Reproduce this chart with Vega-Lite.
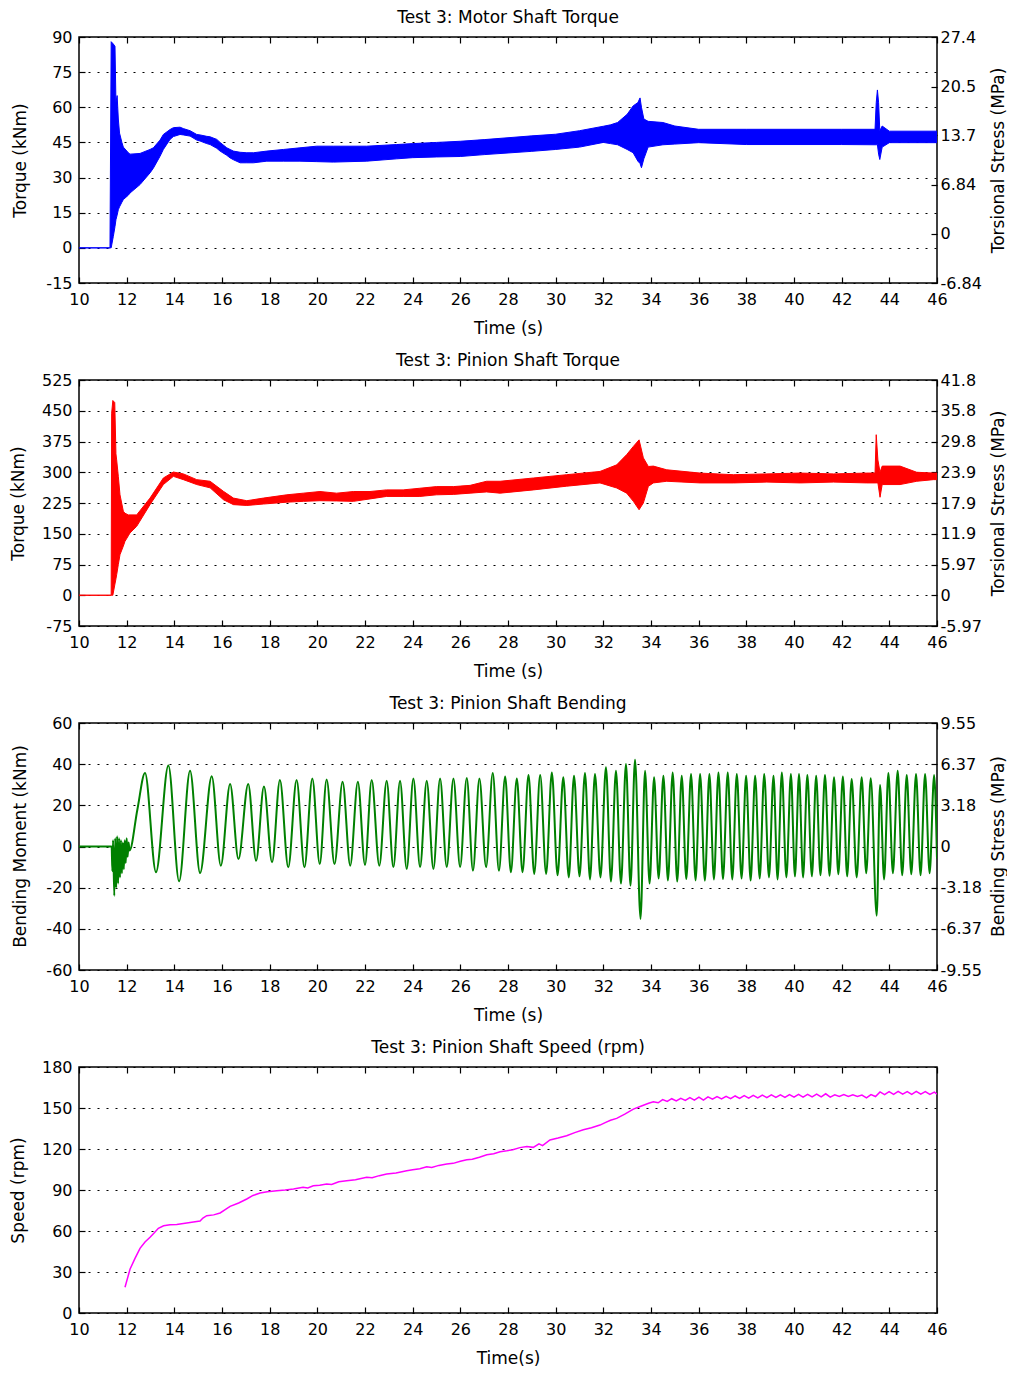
{
  "$schema": "https://vega.github.io/schema/vega-lite/v6.json",
  "padding": {"left": 8, "top": 8, "right": 0, "bottom": 0},
  "background": "white",
  "bounds": "flush",
  "spacing": 97,
  "config": {
    "font": "DejaVu Sans",
    "view": {"stroke": "#000", "strokeWidth": 1.5},
    "axis": {
      "domain": false, "grid": false,
      "labelFont": "DejaVu Sans", "labelFontSize": 16, "labelColor": "#000",
      "titleFont": "DejaVu Sans", "titleFontSize": 17, "titleFontWeight": "normal", "titleColor": "#000",
      "tickColor": "#000", "tickWidth": 1.2, "tickSize": -6,
      "labelFlush": false, "labelOverlap": false, "labelBound": false
    },
    "title": {"font": "DejaVu Sans", "fontSize": 17, "fontWeight": "normal", "color": "#000", "anchor": "middle", "frame": "group"}
  },
  "datasets": {
    "motor": [
      {"t":10.0,"lo":0,"hi":0},{"t":11.30,"lo":0,"hi":0},{"t":11.35,"lo":0,"hi":88},{"t":11.44,"lo":4.9,"hi":87},
      {"t":11.51,"lo":9.1,"hi":86},{"t":11.55,"lo":12,"hi":62},{"t":11.60,"lo":14,"hi":65},{"t":11.65,"lo":16.3,"hi":55},
      {"t":11.70,"lo":17.5,"hi":49},{"t":11.80,"lo":19.5,"hi":45},{"t":11.86,"lo":20.6,"hi":43},{"t":12.07,"lo":22.5,"hi":40.6},
      {"t":12.14,"lo":23.4,"hi":40},{"t":12.56,"lo":27,"hi":40.3},{"t":12.98,"lo":32,"hi":42},{"t":13.12,"lo":34,"hi":42.7},
      {"t":13.40,"lo":39.1,"hi":46},{"t":13.54,"lo":42,"hi":48.4},{"t":13.82,"lo":46.3,"hi":50.5},{"t":13.96,"lo":47.5,"hi":51.3},
      {"t":14.24,"lo":48.4,"hi":51.5},{"t":14.38,"lo":48.2,"hi":50.9},{"t":14.66,"lo":47.7,"hi":50},{"t":14.94,"lo":46,"hi":48.4},
      {"t":15.08,"lo":45.6,"hi":48.2},{"t":15.36,"lo":44.5,"hi":47.6},{"t":15.50,"lo":44.1,"hi":47.4},{"t":15.78,"lo":42.5,"hi":46.3},
      {"t":15.92,"lo":41.3,"hi":45},{"t":16.20,"lo":39.5,"hi":42.7},{"t":16.34,"lo":38.4,"hi":42},{"t":16.48,"lo":37.6,"hi":41.3},
      {"t":16.76,"lo":36.3,"hi":40.8},{"t":17.04,"lo":36.3,"hi":40.6},{"t":17.32,"lo":36.3,"hi":40.6},{"t":17.88,"lo":37,"hi":41.3},
      {"t":18.58,"lo":37,"hi":42},{"t":19.27,"lo":37,"hi":42.7},{"t":19.97,"lo":36.8,"hi":43.4},{"t":20.67,"lo":36.6,"hi":43.4},
      {"t":21.37,"lo":36.8,"hi":43.4},{"t":22.07,"lo":37,"hi":43.4},{"t":23.33,"lo":38,"hi":44.1},{"t":24.0,"lo":38.5,"hi":44.5},
      {"t":25.0,"lo":38.8,"hi":45},{"t":26.0,"lo":39,"hi":45.5},{"t":27.0,"lo":39.8,"hi":46.2},{"t":28.0,"lo":40.5,"hi":47},
      {"t":29.0,"lo":41.2,"hi":47.8},{"t":30.0,"lo":42,"hi":48.5},{"t":31.0,"lo":43,"hi":50},{"t":32.0,"lo":45,"hi":51.9},
      {"t":32.3,"lo":44.5,"hi":52.5},{"t":32.6,"lo":44,"hi":53.5},{"t":33.0,"lo":42,"hi":57},{"t":33.25,"lo":40.6,"hi":60.6},
      {"t":33.45,"lo":37,"hi":62},{"t":33.54,"lo":36,"hi":64},{"t":33.60,"lo":34.2,"hi":60},{"t":33.70,"lo":38,"hi":55},
      {"t":33.88,"lo":43,"hi":54},{"t":34.5,"lo":44,"hi":53.5},{"t":35.0,"lo":44.3,"hi":52},{"t":36.0,"lo":44.9,"hi":50.6},
      {"t":38.0,"lo":44.1,"hi":50.6},{"t":40.0,"lo":44.1,"hi":50.6},{"t":42.0,"lo":44.1,"hi":50.6},{"t":43.40,"lo":44,"hi":50.6},
      {"t":43.45,"lo":44,"hi":62},{"t":43.50,"lo":44,"hi":67.4},{"t":43.55,"lo":40,"hi":62},{"t":43.60,"lo":37.7,"hi":50},
      {"t":43.70,"lo":43,"hi":52},{"t":44.0,"lo":44.9,"hi":49.8},{"t":46.0,"lo":44.9,"hi":49.8}
    ],
    "pinion": [
      {"t":10.0,"lo":0,"hi":0},{"t":11.35,"lo":0,"hi":0},{"t":11.37,"lo":0,"hi":444},{"t":11.42,"lo":0,"hi":475},
      {"t":11.50,"lo":25,"hi":470},{"t":11.55,"lo":40,"hi":345},{"t":11.58,"lo":50,"hi":330},{"t":11.65,"lo":75,"hi":290},
      {"t":11.72,"lo":99,"hi":245},{"t":11.86,"lo":120,"hi":205},{"t":11.93,"lo":131.5,"hi":200},{"t":12.07,"lo":145,"hi":196},
      {"t":12.14,"lo":152,"hi":196},{"t":12.42,"lo":168,"hi":196},{"t":12.98,"lo":221,"hi":237},{"t":13.54,"lo":270,"hi":286},
      {"t":13.96,"lo":290,"hi":300.6},{"t":14.38,"lo":282,"hi":296},{"t":14.94,"lo":270,"hi":282},{"t":15.5,"lo":262,"hi":278},
      {"t":16.06,"lo":233,"hi":253.5},{"t":16.48,"lo":221,"hi":237},{"t":17.04,"lo":219,"hi":230.6},{"t":17.74,"lo":222.5,"hi":237},
      {"t":18.72,"lo":227,"hi":245},{"t":19.41,"lo":229,"hi":249},{"t":20.11,"lo":230.6,"hi":253},{"t":20.81,"lo":230,"hi":249},
      {"t":21.51,"lo":229,"hi":253},{"t":22.21,"lo":235,"hi":253},{"t":22.9,"lo":241,"hi":257},{"t":23.6,"lo":241,"hi":257},
      {"t":24.3,"lo":241,"hi":261},{"t":25.0,"lo":245,"hi":265},{"t":25.71,"lo":246,"hi":265},{"t":26.41,"lo":249,"hi":268},
      {"t":27.1,"lo":252,"hi":278},{"t":27.67,"lo":249,"hi":278},{"t":29.07,"lo":257,"hi":286},{"t":30.46,"lo":266,"hi":294},
      {"t":31.86,"lo":274,"hi":302},{"t":32.56,"lo":261.6,"hi":318},{"t":32.98,"lo":249,"hi":343},{"t":33.26,"lo":229,"hi":363},
      {"t":33.5,"lo":208.6,"hi":379},{"t":33.68,"lo":225,"hi":335},{"t":33.89,"lo":265.7,"hi":314},{"t":34.1,"lo":274,"hi":315},
      {"t":34.66,"lo":278,"hi":306},{"t":36.06,"lo":274,"hi":298},{"t":37.46,"lo":274,"hi":294},{"t":38.86,"lo":276,"hi":296},
      {"t":40.26,"lo":274,"hi":298},{"t":41.66,"lo":276,"hi":296},{"t":43.05,"lo":274,"hi":298},{"t":43.40,"lo":274,"hi":298},
      {"t":43.45,"lo":274,"hi":391.6},{"t":43.52,"lo":274,"hi":330},{"t":43.61,"lo":239,"hi":300},{"t":43.70,"lo":270,"hi":315},
      {"t":44.45,"lo":270,"hi":315},{"t":45.15,"lo":278,"hi":300},{"t":45.85,"lo":282,"hi":298},{"t":46.0,"lo":282,"hi":298}
    ],
    "bending": [
      {"t":10.0,"v":0},{"t":11.37,"v":0},{"t":11.40,"v":-12},{"t":11.43,"v":3},{"t":11.48,"v":-23.9},{"t":11.52,"v":4},
      {"t":11.56,"v":-20},{"t":11.60,"v":5},{"t":11.64,"v":-18},{"t":11.68,"v":4},{"t":11.72,"v":-15},{"t":11.76,"v":3},
      {"t":11.80,"v":-13},{"t":11.84,"v":2},{"t":11.88,"v":-11},{"t":11.92,"v":3},{"t":11.96,"v":-8},{"t":12.00,"v":4},
      {"t":12.04,"v":-5},{"t":12.08,"v":2},{"t":12.12,"v":-2},{"t":12.45,"v":18},
      {"t":12.77,"v":35.7},{"t":13.23,"v":-12.5},{"t":13.75,"v":39.3},{"t":14.20,"v":-16.9},{"t":14.66,"v":36.8},{"t":15.08,"v":-12.9},
      {"t":15.57,"v":34.1},{"t":15.95,"v":-9.3},{"t":16.34,"v":30.4},{"t":16.69,"v":-6.1},{"t":17.10,"v":30.4},{"t":17.43,"v":-6.9},
      {"t":17.76,"v":29.2},{"t":18.10,"v":-7.7},{"t":18.43,"v":32.3},{"t":18.78,"v":-10.1},{"t":19.13,"v":32.3},{"t":19.46,"v":-10.1},
      {"t":19.79,"v":33.0},{"t":20.10,"v":-8.5},{"t":20.39,"v":32.5},{"t":20.72,"v":-8.5},{"t":21.06,"v":31.5},{"t":21.38,"v":-9.3},
      {"t":21.70,"v":31.5},{"t":22.00,"v":-9.0},{"t":22.28,"v":32.3},{"t":22.60,"v":-9.3},{"t":22.91,"v":32.0},{"t":23.19,"v":-10.0},
      {"t":23.47,"v":32.0},{"t":23.75,"v":-10.9},{"t":24.03,"v":33.0},{"t":24.31,"v":-10.0},{"t":24.59,"v":32.0},{"t":24.87,"v":-10.9},
      {"t":25.15,"v":33.0},{"t":25.43,"v":-10.0},{"t":25.71,"v":33.0},{"t":25.99,"v":-10.0},{"t":26.27,"v":33.3},{"t":26.53,"v":-11.7},
      {"t":26.80,"v":33.0},{"t":27.08,"v":-10.0},{"t":27.36,"v":35.7},{"t":27.62,"v":-11.7},{"t":27.88,"v":34.0},{"t":28.12,"v":-12.5},
      {"t":28.37,"v":33.0},{"t":28.61,"v":-12.5},{"t":28.86,"v":34.7},{"t":29.10,"v":-13.3},{"t":29.35,"v":34.7},{"t":29.60,"v":-13.3},
      {"t":29.84,"v":36.0},{"t":30.08,"v":-14.0},{"t":30.32,"v":33.6},{"t":30.55,"v":-15.0},{"t":30.77,"v":34.4},{"t":31.00,"v":-14.5},
      {"t":31.23,"v":35.7},{"t":31.44,"v":-16.0},{"t":31.65,"v":35.2},{"t":31.88,"v":-15.0},{"t":32.11,"v":38.5},{"t":32.32,"v":-17.0},
      {"t":32.53,"v":36.8},{"t":32.74,"v":-18.0},{"t":32.95,"v":40.1},{"t":33.14,"v":-19.0},{"t":33.33,"v":42.2},{"t":33.56,"v":-35.2},
      {"t":33.75,"v":36.8},{"t":33.94,"v":-18.0},{"t":34.13,"v":33.6},{"t":34.32,"v":-15.5},{"t":34.52,"v":34.4},{"t":34.71,"v":-16.5},
      {"t":34.91,"v":36.0},{"t":35.10,"v":-17.0},{"t":35.29,"v":34.4},{"t":35.48,"v":-15.8},{"t":35.68,"v":35.2},{"t":35.87,"v":-16.5},
      {"t":36.06,"v":35.2},{"t":36.26,"v":-16.6},{"t":36.45,"v":35.2},{"t":36.64,"v":-16.0},{"t":36.83,"v":36.0},{"t":37.02,"v":-15.8},
      {"t":37.22,"v":36.0},{"t":37.41,"v":-16.0},{"t":37.60,"v":35.2},{"t":37.80,"v":-15.5},{"t":37.99,"v":34.4},{"t":38.18,"v":-16.5},
      {"t":38.37,"v":34.4},{"t":38.56,"v":-15.5},{"t":38.75,"v":35.2},{"t":38.95,"v":-15.0},{"t":39.14,"v":34.4},{"t":39.31,"v":-16.0},
      {"t":39.49,"v":36.0},{"t":39.68,"v":-15.0},{"t":39.87,"v":35.2},{"t":40.04,"v":-14.5},{"t":40.21,"v":35.2},{"t":40.38,"v":-15.0},
      {"t":40.56,"v":34.7},{"t":40.75,"v":-14.5},{"t":40.93,"v":34.4},{"t":41.11,"v":-14.0},{"t":41.30,"v":34.7},{"t":41.49,"v":-14.2},
      {"t":41.68,"v":33.6},{"t":41.86,"v":-13.5},{"t":42.05,"v":34.0},{"t":42.23,"v":-14.5},{"t":42.42,"v":32.8},{"t":42.63,"v":-15.0},
      {"t":42.84,"v":33.6},{"t":43.03,"v":-13.0},{"t":43.22,"v":33.1},{"t":43.47,"v":-33.6},{"t":43.61,"v":29.9},{"t":43.78,"v":-16.0},
      {"t":43.96,"v":35.7},{"t":44.15,"v":-13.0},{"t":44.35,"v":36.8},{"t":44.54,"v":-14.0},{"t":44.73,"v":34.7},{"t":44.92,"v":-13.5},
      {"t":45.12,"v":35.2},{"t":45.31,"v":-14.0},{"t":45.50,"v":35.2},{"t":45.69,"v":-13.0},{"t":45.88,"v":34.7},{"t":46.00,"v":-6.0}
    ],
    "speed": [
      {"t":11.93,"v":18.8},{"t":12.14,"v":32},{"t":12.35,"v":40},{"t":12.56,"v":47.3},{"t":12.77,"v":52},{"t":12.98,"v":55.4},
      {"t":13.15,"v":58.5},{"t":13.33,"v":62},{"t":13.55,"v":63.8},{"t":13.82,"v":64.6},{"t":14.1,"v":64.8},{"t":14.52,"v":65.8},
      {"t":14.8,"v":66.5},{"t":15.08,"v":67.3},{"t":15.2,"v":69.5},{"t":15.36,"v":71.2},{"t":15.65,"v":71.8},{"t":15.92,"v":73.2},
      {"t":16.15,"v":75.8},{"t":16.34,"v":78},{"t":16.7,"v":80.5},{"t":17.04,"v":83.4},{"t":17.3,"v":86},{"t":17.6,"v":87.8},
      {"t":17.9,"v":88.8},{"t":18.3,"v":89.5},{"t":18.65,"v":90},{"t":19.0,"v":90.7},{"t":19.4,"v":92},{"t":19.6,"v":91.5},
      {"t":19.83,"v":93.1},{"t":20.1,"v":93.5},{"t":20.39,"v":94.4},{"t":20.6,"v":94},{"t":20.9,"v":96},{"t":21.23,"v":96.8},
      {"t":21.6,"v":97.5},{"t":22.07,"v":99.3},{"t":22.3,"v":99},{"t":22.6,"v":100.5},{"t":22.91,"v":101.7},{"t":23.3,"v":102.5},
      {"t":23.75,"v":104.1},{"t":24.0,"v":104.8},{"t":24.3,"v":105.5},{"t":24.59,"v":107},{"t":24.8,"v":106.5},{"t":25.1,"v":108},
      {"t":25.43,"v":109},{"t":25.7,"v":109.5},{"t":26.0,"v":111},{"t":26.27,"v":112.1},{"t":26.5,"v":112.5},{"t":26.8,"v":114},
      {"t":27.11,"v":115.8},{"t":27.4,"v":116.5},{"t":27.67,"v":118},{"t":27.95,"v":118.7},{"t":28.2,"v":119.5},{"t":28.5,"v":121},
      {"t":28.79,"v":121.9},{"t":29.06,"v":121.2},{"t":29.3,"v":123.8},{"t":29.45,"v":122.5},{"t":29.76,"v":126.6},{"t":30.1,"v":128},
      {"t":30.46,"v":129.7},{"t":30.8,"v":132},{"t":31.16,"v":134.1},{"t":31.5,"v":135.5},{"t":31.86,"v":137.5},{"t":32.1,"v":139.5},
      {"t":32.3,"v":141},{"t":32.56,"v":142.4},{"t":32.9,"v":145.5},{"t":33.26,"v":149.2},{"t":33.6,"v":151.5},{"t":33.9,"v":153.5},
      {"t":34.1,"v":154.6},{"t":34.30,"v":153.8},{"t":34.49,"v":156.2},{"t":34.68,"v":154.8},{"t":34.87,"v":156.8},{"t":35.06,"v":155.2},
      {"t":35.25,"v":157.0},{"t":35.44,"v":155.6},{"t":35.63,"v":157.6},{"t":35.82,"v":155.8},{"t":36.01,"v":158.0},{"t":36.20,"v":155.8},
      {"t":36.39,"v":158.2},{"t":36.58,"v":156.4},{"t":36.77,"v":158.4},{"t":36.96,"v":156.6},{"t":37.15,"v":158.6},{"t":37.34,"v":156.8},
      {"t":37.53,"v":158.8},{"t":37.72,"v":157.0},{"t":37.91,"v":159.0},{"t":38.10,"v":157.2},{"t":38.29,"v":159.2},{"t":38.48,"v":157.4},
      {"t":38.67,"v":159.4},{"t":38.86,"v":157.6},{"t":39.05,"v":159.6},{"t":39.24,"v":157.8},{"t":39.43,"v":159.6},{"t":39.62,"v":157.8},
      {"t":39.81,"v":159.8},{"t":40.00,"v":158.0},{"t":40.19,"v":160.0},{"t":40.38,"v":158.0},{"t":40.57,"v":160.0},{"t":40.76,"v":158.2},
      {"t":40.95,"v":160.2},{"t":41.14,"v":158.2},{"t":41.33,"v":160.4},{"t":41.52,"v":158.0},{"t":41.71,"v":159.6},{"t":41.90,"v":158.4},
      {"t":42.09,"v":159.8},{"t":42.28,"v":158.4},{"t":42.47,"v":159.6},{"t":42.66,"v":158.4},{"t":42.85,"v":159.4},{"t":43.04,"v":157.4},
      {"t":43.23,"v":159.8},{"t":43.42,"v":158.4},{"t":43.61,"v":161.8},{"t":43.80,"v":159.8},{"t":43.99,"v":162.0},{"t":44.18,"v":160.0},
      {"t":44.37,"v":162.2},{"t":44.56,"v":160.2},{"t":44.75,"v":162.0},{"t":44.94,"v":160.0},{"t":45.13,"v":162.2},{"t":45.32,"v":160.2},
      {"t":45.51,"v":162.0},{"t":45.70,"v":160.0},{"t":45.89,"v":161.6},{"t":46.00,"v":160.2}
    ]
  },
  "vconcat": [
    {
      "width": 858, "height": 246,
      "title": {"text": "Test 3: Motor Shaft Torque", "offset": -11, "baseline": "alphabetic"},
      "layer": [
        {
          "data": {"name": "motor"},
          "mark": {"type": "area", "color": "#0000ff", "stroke": "#0000ff", "strokeWidth": 1, "opacity": 1, "clip": true},
          "encoding": {
            "x": {"field": "t", "type": "quantitative", "scale": {"domain": [10, 46], "nice": false, "zero": false},
                  "axis": {"values": [10,12,14,16,18,20,22,24,26,28,30,32,34,36,38,40,42,44,46], "labelExpr": "'' + datum.value", "labelPadding": 14, "title": "Time (s)", "titleX": 429, "titleY": 45, "titleBaseline": "middle", "titleAlign": "center"}},
            "y": {"field": "lo", "type": "quantitative", "scale": {"domain": [-15, 90], "nice": false, "zero": false},
                  "axis": {"values": [-15,0,15,30,45,60,75,90], "labelExpr": "'' + datum.value", "labelPadding": 13, "grid": true, "gridDash": [2, 7], "gridColor": "#000", "gridWidth": 1.2, "title": "Torque (kNm)", "titleX": -59, "titleY": 123, "titleAngle": -90, "titleBaseline": "middle", "titleAlign": "center"}},
            "y2": {"field": "hi"}
          }
        },
        {
          "data": {"name": "motor"},
          "mark": {"type": "point", "opacity": 0, "clip": true},
          "encoding": {
            "x": {"field": "t", "type": "quantitative", "scale": {"domain": [10, 46], "nice": false, "zero": false},
                  "axis": {"orient": "top", "values": [10,12,14,16,18,20,22,24,26,28,30,32,34,36,38,40,42,44,46], "labels": false, "title": null, "minExtent": 0, "maxExtent": 0}},
            "y": {"field": "lo", "type": "quantitative", "scale": {"domain": [-6.84, 27.4], "nice": false, "zero": false},
                  "axis": {"orient": "right", "values": [-6.84,0,6.84,13.7,20.5,27.4], "labelExpr": "'' + datum.value", "labelPadding": 9, "title": "Torsional Stress (MPa)", "titleX": 61, "titleY": 123, "titleAngle": -90, "titleBaseline": "middle", "titleAlign": "center"}}
          }
        }
      ],
      "resolve": {"scale": {"x": "independent", "y": "independent"}}
    },
    {
      "width": 858, "height": 246,
      "title": {"text": "Test 3: Pinion Shaft Torque", "offset": -11, "baseline": "alphabetic"},
      "layer": [
        {
          "data": {"name": "pinion"},
          "mark": {"type": "area", "color": "#ff0000", "stroke": "#ff0000", "strokeWidth": 1, "opacity": 1, "clip": true},
          "encoding": {
            "x": {"field": "t", "type": "quantitative", "scale": {"domain": [10, 46], "nice": false, "zero": false},
                  "axis": {"values": [10,12,14,16,18,20,22,24,26,28,30,32,34,36,38,40,42,44,46], "labelExpr": "'' + datum.value", "labelPadding": 14, "title": "Time (s)", "titleX": 429, "titleY": 45, "titleBaseline": "middle", "titleAlign": "center"}},
            "y": {"field": "lo", "type": "quantitative", "scale": {"domain": [-75, 525], "nice": false, "zero": false},
                  "axis": {"values": [-75,0,75,150,225,300,375,450,525], "labelExpr": "'' + datum.value", "labelPadding": 13, "grid": true, "gridDash": [2, 7], "gridColor": "#000", "gridWidth": 1.2, "title": "Torque (kNm)", "titleX": -61, "titleY": 123, "titleAngle": -90, "titleBaseline": "middle", "titleAlign": "center"}},
            "y2": {"field": "hi"}
          }
        },
        {
          "data": {"name": "pinion"},
          "mark": {"type": "point", "opacity": 0, "clip": true},
          "encoding": {
            "x": {"field": "t", "type": "quantitative", "scale": {"domain": [10, 46], "nice": false, "zero": false},
                  "axis": {"orient": "top", "values": [10,12,14,16,18,20,22,24,26,28,30,32,34,36,38,40,42,44,46], "labels": false, "title": null, "minExtent": 0, "maxExtent": 0}},
            "y": {"field": "lo", "type": "quantitative", "scale": {"domain": [-5.97, 41.8], "nice": false, "zero": false},
                  "axis": {"orient": "right", "values": [-5.97,0,5.97,11.9,17.9,23.9,29.8,35.8,41.8], "labelExpr": "'' + datum.value", "labelPadding": 9, "title": "Torsional Stress (MPa)", "titleX": 61, "titleY": 123, "titleAngle": -90, "titleBaseline": "middle", "titleAlign": "center"}}
          }
        }
      ],
      "resolve": {"scale": {"x": "independent", "y": "independent"}}
    },
    {
      "width": 858, "height": 247,
      "title": {"text": "Test 3: Pinion Shaft Bending", "offset": -11, "baseline": "alphabetic"},
      "layer": [
        {
          "data": {"name": "bending"},
          "mark": {"type": "line", "color": "#008000", "strokeWidth": 2, "interpolate": "monotone", "clip": true},
          "encoding": {
            "x": {"field": "t", "type": "quantitative", "scale": {"domain": [10, 46], "nice": false, "zero": false},
                  "axis": {"values": [10,12,14,16,18,20,22,24,26,28,30,32,34,36,38,40,42,44,46], "labelExpr": "'' + datum.value", "labelPadding": 14, "title": "Time (s)", "titleX": 429, "titleY": 45, "titleBaseline": "middle", "titleAlign": "center"}},
            "y": {"field": "v", "type": "quantitative", "scale": {"domain": [-60, 60], "nice": false, "zero": false},
                  "axis": {"values": [-60,-40,-20,0,20,40,60], "labelExpr": "'' + datum.value", "labelPadding": 13, "grid": true, "gridDash": [2, 7], "gridColor": "#000", "gridWidth": 1.2, "title": "Bending Moment (kNm)", "titleX": -59, "titleY": 123, "titleAngle": -90, "titleBaseline": "middle", "titleAlign": "center"}}
          }
        },
        {
          "data": {"name": "bending"},
          "mark": {"type": "point", "opacity": 0, "clip": true},
          "encoding": {
            "x": {"field": "t", "type": "quantitative", "scale": {"domain": [10, 46], "nice": false, "zero": false},
                  "axis": {"orient": "top", "values": [10,12,14,16,18,20,22,24,26,28,30,32,34,36,38,40,42,44,46], "labels": false, "title": null, "minExtent": 0, "maxExtent": 0}},
            "y": {"field": "v", "type": "quantitative", "scale": {"domain": [-9.55, 9.55], "nice": false, "zero": false},
                  "axis": {"orient": "right", "values": [-9.55,-6.37,-3.18,0,3.18,6.37,9.55], "labelExpr": "'' + datum.value", "labelPadding": 9, "title": "Bending Stress (MPa)", "titleX": 61, "titleY": 123, "titleAngle": -90, "titleBaseline": "middle", "titleAlign": "center"}}
          }
        }
      ],
      "resolve": {"scale": {"x": "independent", "y": "independent"}}
    },
    {
      "width": 858, "height": 246,
      "title": {"text": "Test 3: Pinion Shaft Speed (rpm)", "offset": -11, "baseline": "alphabetic"},
      "layer": [
        {
          "data": {"name": "speed"},
          "mark": {"type": "line", "color": "#ff00ff", "strokeWidth": 1.5, "clip": true},
          "encoding": {
            "x": {"field": "t", "type": "quantitative", "scale": {"domain": [10, 46], "nice": false, "zero": false},
                  "axis": {"values": [10,12,14,16,18,20,22,24,26,28,30,32,34,36,38,40,42,44,46], "labelExpr": "'' + datum.value", "labelPadding": 14, "title": "Time(s)", "titleX": 429, "titleY": 45, "titleBaseline": "middle", "titleAlign": "center"}},
            "y": {"field": "v", "type": "quantitative", "scale": {"domain": [0, 180], "nice": false, "zero": false},
                  "axis": {"values": [0,30,60,90,120,150,180], "labelExpr": "'' + datum.value", "labelPadding": 13, "grid": true, "gridDash": [2, 7], "gridColor": "#000", "gridWidth": 1.2, "title": "Speed (rpm)", "titleX": -61, "titleY": 123, "titleAngle": -90, "titleBaseline": "middle", "titleAlign": "center"}}
          }
        },
        {
          "data": {"name": "speed"},
          "mark": {"type": "point", "opacity": 0, "clip": true},
          "encoding": {
            "x": {"field": "t", "type": "quantitative", "scale": {"domain": [10, 46], "nice": false, "zero": false},
                  "axis": {"orient": "top", "values": [10,12,14,16,18,20,22,24,26,28,30,32,34,36,38,40,42,44,46], "labels": false, "title": null, "minExtent": 0, "maxExtent": 0}},
            "y": {"field": "v", "type": "quantitative", "scale": {"domain": [0, 180], "nice": false, "zero": false}, "axis": null}
          }
        }
      ],
      "resolve": {"scale": {"x": "independent", "y": "independent"}}
    }
  ]
}
